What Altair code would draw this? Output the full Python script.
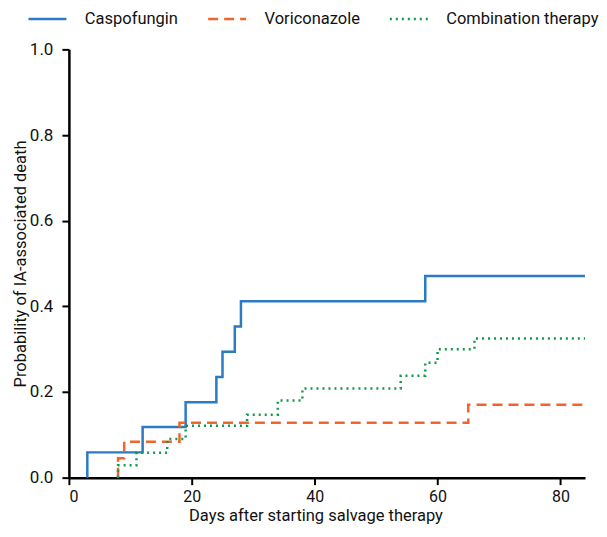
import altair as alt
import pandas as pd

series_names = ["Caspofungin", "Voriconazole", "Combination therapy"]
series_colors = ["#2a7bc1", "#f2642e", "#129a4a"]
series_dash = [[1, 0], [10, 6], [2, 4]]

casp_days = [3, 3, 12, 19, 24, 25, 27, 28, 58, 84]
casp_prob = [0, 0.059, 0.118, 0.176, 0.235, 0.294, 0.353, 0.412, 0.471, 0.471]

vori_days = [8, 8, 9, 18, 65, 84]
vori_prob = [0, 0.045, 0.084, 0.128, 0.17, 0.17]

combo_days = [8, 8, 11, 16, 19, 29, 34, 38, 54, 58, 60, 66, 84]
combo_prob = [0, 0.029, 0.058, 0.09, 0.121, 0.147, 0.18, 0.208, 0.238, 0.268, 0.30, 0.325, 0.325]

x_ticks = [0, 20, 40, 60, 80]
y_ticks = [0.0, 0.2, 0.4, 0.6, 0.8, 1.0]

rows = []
for name, days, probs in [
    (series_names[0], casp_days, casp_prob),
    (series_names[1], vori_days, vori_prob),
    (series_names[2], combo_days, combo_prob),
]:
    for i, (d, p) in enumerate(zip(days, probs)):
        rows.append({"series": name, "day": d, "prob": p, "order": i})
df = pd.DataFrame(rows)

FONT = "Roboto, sans-serif"

legend_opts = dict(title=None, orient="none", direction="horizontal",
                   legendX=-42, legendY=-51, symbolType="stroke",
                   symbolSize=1444, symbolStrokeWidth=2.5,
                   labelFontSize=16.5, labelFont=FONT, labelColor="#111", labelLimit=400,
                   labelOffset=17, columnPadding=24, padding=0)

chart = alt.Chart(df).mark_line(interpolate="step-after", strokeWidth=2.5).encode(
    x=alt.X("day:Q",
            scale=alt.Scale(domain=[0, 84], nice=False, zero=False),
            axis=alt.Axis(values=x_ticks, format="d", title="Days after starting salvage therapy",
                          labelPadding=4, labelFontSize=16,
                          titleX=247, titleY=43, titleBaseline="alphabetic", titleAlign="center")),
    y=alt.Y("prob:Q",
            scale=alt.Scale(domain=[0, 1], nice=False),
            axis=alt.Axis(values=y_ticks, format=".1f", title="Probability of IA-associated death",
                          labelPadding=9,
                          titleX=-43, titleY=214.5, titleBaseline="alphabetic", titleAlign="center",
                          titleAngle=270)),
    color=alt.Color("series:N",
                    scale=alt.Scale(domain=series_names, range=series_colors),
                    sort=series_names,
                    legend=alt.Legend(**legend_opts)),
    strokeDash=alt.StrokeDash("series:N",
                              scale=alt.Scale(domain=series_names, range=series_dash),
                              sort=series_names,
                              legend=alt.Legend(**legend_opts)),
    order="order:Q",
).properties(
    width=517,
    height=429,
    padding={"left": 61, "top": 41, "right": 14, "bottom": 46},
    autosize=alt.AutoSizeParams(type="none"),
).configure_view(
    stroke=None
).configure_axis(
    domainColor="black", domainWidth=2.5, tickColor="black", tickWidth=2, tickSize=7,
    labelFont=FONT, labelFontSize=17, labelColor="#111",
    titleFont=FONT, titleFontSize=16.5, titleFontWeight="normal", titleColor="#111",
    grid=False,
)

chart.save("out.html", embed_options={"renderer": "svg", "actions": False})
